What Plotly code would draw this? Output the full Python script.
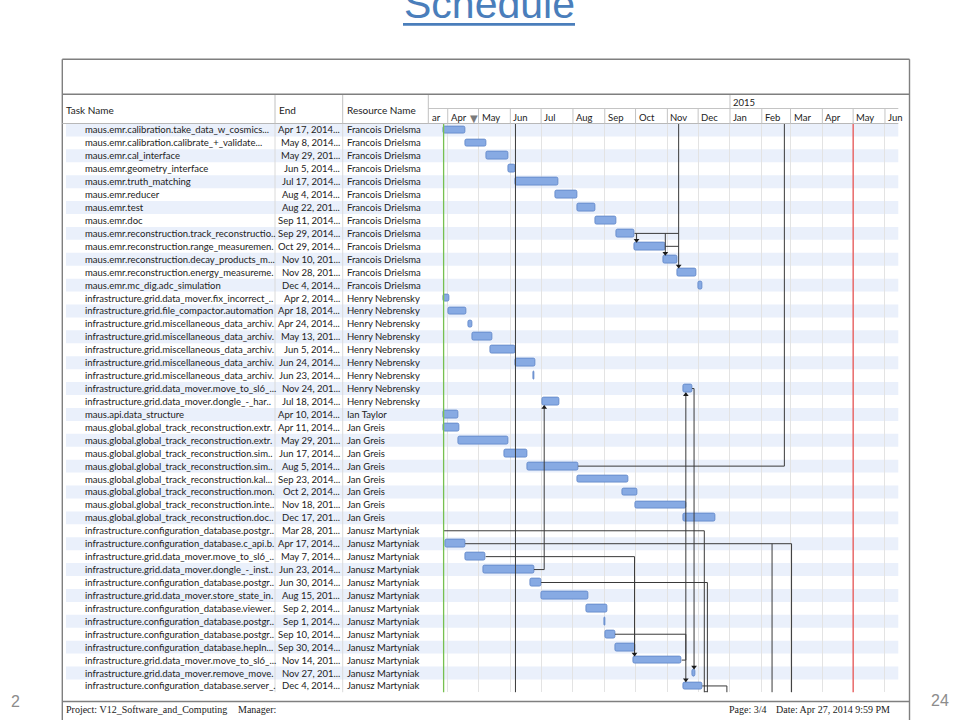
import plotly.graph_objects as go
import pandas as pd

W, H = 960, 720

# ---------------- data ----------------
task_names = [
    "maus.emr.calibration.take_data_w_cosmics...",
    "maus.emr.calibration.calibrate_+_validate...",
    "maus.emr.cal_interface",
    "maus.emr.geometry_interface",
    "maus.emr.truth_matching",
    "maus.emr.reducer",
    "maus.emr.test",
    "maus.emr.doc",
    "maus.emr.reconstruction.track_reconstructio..",
    "maus.emr.reconstruction.range_measuremen.",
    "maus.emr.reconstruction.decay_products_m...",
    "maus.emr.reconstruction.energy_measureme.",
    "maus.emr.mc_dig.adc_simulation",
    "infrastructure.grid.data_mover.fix_incorrect_..",
    "infrastructure.grid.file_compactor.automation",
    "infrastructure.grid.miscellaneous_data_archiv.",
    "infrastructure.grid.miscellaneous_data_archiv.",
    "infrastructure.grid.miscellaneous_data_archiv.",
    "infrastructure.grid.miscellaneous_data_archiv.",
    "infrastructure.grid.miscellaneous_data_archiv.",
    "infrastructure.grid.data_mover.move_to_sl6_...",
    "infrastructure.grid.data_mover.dongle_-_har..",
    "maus.api.data_structure",
    "maus.global.global_track_reconstruction.extr.",
    "maus.global.global_track_reconstruction.extr.",
    "maus.global.global_track_reconstruction.sim..",
    "maus.global.global_track_reconstruction.sim..",
    "maus.global.global_track_reconstruction.kal...",
    "maus.global.global_track_reconstruction.mon.",
    "maus.global.global_track_reconstruction.inte..",
    "maus.global.global_track_reconstruction.doc..",
    "infrastructure.configuration_database.postgr..",
    "infrastructure.configuration_database.c_api.b.",
    "infrastructure.grid.data_mover.move_to_sl6_..",
    "infrastructure.grid.data_mover.dongle_-_inst..",
    "infrastructure.configuration_database.postgr..",
    "infrastructure.grid.data_mover.store_state_in.",
    "infrastructure.configuration_database.viewer..",
    "infrastructure.configuration_database.postgr..",
    "infrastructure.configuration_database.postgr..",
    "infrastructure.configuration_database.hepIn...",
    "infrastructure.grid.data_mover.move_to_sl6_...",
    "infrastructure.grid.data_mover.remove_move.",
    "infrastructure.configuration_database.server_.",
]

end_labels = [
    "Apr 17, 2014...", "May 8, 2014...", "May 29, 201...", "Jun 5, 2014...",
    "Jul 17, 2014...", "Aug 4, 2014...", "Aug 22, 201...", "Sep 11, 2014...",
    "Sep 29, 2014...", "Oct 29, 2014...", "Nov 10, 201...", "Nov 28, 201...",
    "Dec 4, 2014...",
    "Apr 2, 2014...", "Apr 18, 2014...", "Apr 24, 2014...", "May 13, 201...",
    "Jun 5, 2014...", "Jun 24, 2014...", "Jun 23, 2014...", "Nov 24, 201...",
    "Jul 18, 2014...",
    "Apr 10, 2014...",
    "Apr 11, 2014...", "May 29, 201...", "Jun 17, 2014...", "Aug 5, 2014...",
    "Sep 23, 2014...", "Oct 2, 2014...", "Nov 18, 201...", "Dec 17, 201...",
    "Mar 28, 201...", "Apr 17, 2014...", "May 7, 2014...", "Jun 23, 2014...",
    "Jun 30, 2014...", "Aug 15, 201...", "Sep 2, 2014...", "Sep 1, 2014...",
    "Sep 10, 2014...", "Sep 30, 2014...", "Nov 14, 201...", "Nov 27, 201...",
    "Dec 4, 2014...",
]

resources = (["Francois Drielsma"] * 13 + ["Henry Nebrensky"] * 9 + ["Ian Taylor"]
             + ["Jan Greis"] * 8 + ["Janusz Martyniak"] * 13)

start_dates = [
    "2014-03-28", "2014-04-18", "2014-05-09", "2014-05-30", "2014-06-06", "2014-07-15",
    "2014-08-05", "2014-08-23", "2014-09-12", "2014-09-30", "2014-10-28", "2014-11-11",
    "2014-12-01",
    "2014-03-28", "2014-04-02", "2014-04-21", "2014-04-25", "2014-05-12", "2014-06-06",
    "2014-06-23", "2014-11-17", "2014-07-02",
    "2014-03-28",
    "2014-03-28", "2014-04-11", "2014-05-26", "2014-06-18", "2014-08-05", "2014-09-18",
    "2014-10-01", "2014-11-17",
    None, "2014-03-30", "2014-04-18", "2014-05-06", "2014-06-20", "2014-07-01",
    "2014-08-14", "2014-09-01", "2014-09-02", "2014-09-11", "2014-09-29", "2014-11-25",
    "2014-11-17",
]

end_dates = [
    "2014-04-17", "2014-05-08", "2014-05-29", "2014-06-05", "2014-07-17", "2014-08-04",
    "2014-08-22", "2014-09-11", "2014-09-29", "2014-10-29", "2014-11-10", "2014-11-28",
    "2014-12-04",
    "2014-04-02", "2014-04-18", "2014-04-24", "2014-05-13", "2014-06-05", "2014-06-24",
    "2014-06-23", "2014-11-24", "2014-07-18",
    "2014-04-10",
    "2014-04-11", "2014-05-29", "2014-06-17", "2014-08-05", "2014-09-23", "2014-10-02",
    "2014-11-18", "2014-12-17",
    "2014-03-28", "2014-04-17", "2014-05-07", "2014-06-23", "2014-06-30", "2014-08-15",
    "2014-09-02", "2014-09-01", "2014-09-10", "2014-09-30", "2014-11-14", "2014-11-27",
    "2014-12-04",
]

month_starts = ["2014-04-01", "2014-05-01", "2014-06-01", "2014-07-01", "2014-08-01",
                "2014-09-01", "2014-10-01", "2014-11-01", "2014-12-01", "2015-01-01",
                "2015-02-01", "2015-03-01", "2015-04-01", "2015-05-01", "2015-06-01"]
month_labels = ["Apr", "May", "Jun", "Jul", "Aug", "Sep", "Oct", "Nov", "Dec",
                "Jan", "Feb", "Mar", "Apr", "May", "Jun"]

status_date = "2014-03-28"     # green line
deadline_date = "2015-05-01"   # red line
today_date = "2014-04-27"      # header marker

# dependency links: (dates, row indices, arrow direction at last point)
links = [
    (["2014-09-30", "2014-11-12"], [8, 8], None),
    (["2014-10-02", "2014-10-02"], [8, 9], "down"),
    (["2014-10-30", "2014-10-30"], [8, 10], "down"),
    (["2014-10-30", "2014-11-12"], [9, 9], None),
    (["2014-11-12", "2014-11-12"], [-0.5, 11], "down"),
    (["2014-06-06", "2014-06-06"], [-0.5, 43.5], None),
    (["2014-08-06", "2015-02-23", "2015-02-23"], [26, 26, -0.5], None),
    (["2014-06-24", "2014-07-04", "2014-07-04"], [34, 34, 21], "up"),
    (["2014-11-15", "2014-11-19", "2014-11-19"], [41, 41, 20], "up"),
    (["2014-11-25", "2014-11-27", "2014-11-27"], [20, 20, 42], "down"),
    (["2014-09-11", "2014-11-19", "2014-11-19"], [39, 39, 43], "down"),
    (["2014-03-28", "2014-12-07", "2014-12-07"], [31, 31, 43.5], None),
    (["2014-04-18", "2015-03-02", "2015-03-02"], [32, 32, 43.5], None),
    (["2015-02-11", "2015-02-11"], [32, 43.5], None),
    (["2014-05-08", "2014-09-30", "2014-09-30"], [33, 33, 41], "down"),
    (["2014-07-01", "2014-12-10", "2014-12-10"], [35, 35, 43.5], None),
    (["2014-12-05", "2014-12-29", "2014-12-29"], [43, 43, 43.5], None),
    (["2014-12-07", "2014-12-10"], [43.45, 43.45], None),
]

# ---------------- helpers ----------------
def PX(x):
    return x / W


def PY(y):
    return 1 - y / H


N = len(task_names)
TXT = "#222222"
FONT = "Lato"

fig = go.Figure()

# connectors
lx, ly, dx, dy, ux, uy = [], [], [], [], [], []
for xs, ys, arrow in links:
    ys2 = list(ys)
    if arrow == "down":
        ys2[-1] = ys[-1] - 0.34
        dx.append(xs[-1]); dy.append(ys[-1] - 0.47)
    elif arrow == "up":
        ys2[-1] = ys[-1] + 0.34
        ux.append(xs[-1]); uy.append(ys[-1] + 0.47)
    lx += xs + [None]
    ly += ys2 + [None]

fig.add_trace(go.Scatter(x=lx, y=ly, mode="lines", line=dict(color="#3a3a3a", width=1),
                         hoverinfo="skip"))
fig.add_trace(go.Scatter(x=dx, y=dy, mode="markers", hoverinfo="skip",
                         marker=dict(symbol="triangle-down", size=5, color="#1a1a1a")))
fig.add_trace(go.Scatter(x=ux, y=uy, mode="markers", hoverinfo="skip",
                         marker=dict(symbol="triangle-up", size=5, color="#1a1a1a")))

# bars
rows = [i for i, s in enumerate(start_dates) if s]
s = pd.to_datetime([start_dates[i] for i in rows])
e = pd.to_datetime([end_dates[i] for i in rows]) + pd.Timedelta(days=1)
dur = [(b - a).total_seconds() * 1000 for a, b in zip(s, e)]
fig.add_trace(go.Bar(
    y=rows, x=dur, base=[d.strftime("%Y-%m-%d") for d in s], orientation="h",
    width=0.6, hoverinfo="skip",
    marker=dict(color="#87aae3", line=dict(color="#5c83c6", width=0.8), cornerradius=2),
))

shapes = []
# stripes
for i in range(0, N, 2):
    shapes.append(dict(type="rect", xref="paper", yref="y", x0=PX(66), x1=PX(898.3),
                       y0=i - 0.5, y1=i + 0.5, fillcolor="#eaf0fb", line=dict(width=0),
                       layer="below"))
# table column separators in rows area
for xc in [275, 342.7]:
    shapes.append(dict(type="line", xref="paper", yref="y", x0=PX(xc), x1=PX(xc),
                       y0=-0.5, y1=N - 0.5, line=dict(color="#dadada", width=1),
                       layer="below"))
# status / deadline lines
shapes.append(dict(type="line", xref="x", yref="y", x0=status_date, x1=status_date,
                   y0=-0.5, y1=N - 0.5, line=dict(color="#77c050", width=1.3)))
shapes.append(dict(type="line", xref="x", yref="y", x0=deadline_date, x1=deadline_date,
                   y0=-0.5, y1=N - 0.5, line=dict(color="#ea5656", width=1.3)))

# frame
FR = "#7f7f7f"
shapes += [
    dict(type="line", xref="paper", yref="paper", x0=PX(62.3), x1=PX(62.3), y0=PY(59.3), y1=PY(725),
         line=dict(color=FR, width=1.4)),
    dict(type="line", xref="paper", yref="paper", x0=PX(909.5), x1=PX(909.5), y0=PY(59.3), y1=PY(725),
         line=dict(color=FR, width=1.4)),
    dict(type="line", xref="paper", yref="paper", x0=PX(62.3), x1=PX(909.5), y0=PY(59.3), y1=PY(59.3),
         line=dict(color=FR, width=1.4)),
    dict(type="line", xref="paper", yref="paper", x0=PX(62.3), x1=PX(909.5), y0=PY(94.3), y1=PY(94.3),
         line=dict(color=FR, width=1.4)),
    dict(type="line", xref="paper", yref="paper", x0=PX(62.3), x1=PX(909.5), y0=PY(701.5), y1=PY(701.5),
         line=dict(color=FR, width=1.4)),
    # header bottom
    dict(type="line", xref="paper", yref="paper", x0=PX(62.3), x1=PX(898.3), y0=PY(123.5), y1=PY(123.5),
         line=dict(color="#b8b8b8", width=1)),
    # gantt header tier line
    dict(type="line", xref="paper", yref="paper", x0=PX(428.3), x1=PX(898.3), y0=PY(108.5), y1=PY(108.5),
         line=dict(color="#c4c4c4", width=1)),
]
for xc in [275, 342.7, 428.3]:
    shapes.append(dict(type="line", xref="paper", yref="paper", x0=PX(xc), x1=PX(xc),
                       y0=PY(95), y1=PY(123.5), line=dict(color="#c0c0c0", width=1)))
for m in month_starts:
    shapes.append(dict(type="line", xref="x", yref="paper", x0=m, x1=m,
                       y0=PY(108.5), y1=PY(123.5), line=dict(color="#c4c4c4", width=1)))
shapes.append(dict(type="line", xref="x", yref="paper", x0="2015-01-01", x1="2015-01-01",
                   y0=PY(95), y1=PY(108.5), line=dict(color="#c4c4c4", width=1)))
# title underline
shapes.append(dict(type="line", xref="paper", yref="paper", x0=PX(403), x1=PX(575),
                   y0=PY(24.3), y1=PY(24.3), line=dict(color="#4a7ebb", width=2.7)))

ann = []
# title
ann.append(dict(x=PX(489), y=PY(4), xref="paper", yref="paper", text="Schedule",
                showarrow=False, xanchor="center", yanchor="middle",
                font=dict(family="Liberation Sans", size=41, color="#4a7ebb")))
# slide numbers
ann.append(dict(x=PX(15), y=PY(701), xref="paper", yref="paper", text="2", showarrow=False,
                xanchor="center", yanchor="middle",
                font=dict(family="Liberation Sans", size=16, color="#8c8c8c")))
ann.append(dict(x=PX(940), y=PY(700), xref="paper", yref="paper", text="24", showarrow=False,
                xanchor="center", yanchor="middle",
                font=dict(family="Liberation Sans", size=16, color="#8c8c8c")))
# table headers
for txt, xc in [("Task Name", 64), ("End", 277), ("Resource Name", 345)]:
    ann.append(dict(x=PX(xc), y=PY(110), xref="paper", yref="paper", text=txt, showarrow=False,
                    xanchor="left", yanchor="middle", font=dict(family=FONT, size=10, color=TXT)))
# gantt header
ann.append(dict(x=PX(430), y=PY(117.5), xref="paper", yref="paper", text="ar", showarrow=False,
                xanchor="left", yanchor="middle", font=dict(family=FONT, size=9.5, color=TXT)))
for m, lab in zip(month_starts, month_labels):
    ann.append(dict(x=m, y=PY(117.5), xref="x", yref="paper", text=lab, showarrow=False,
                    xanchor="left", yanchor="middle", xshift=1,
                    font=dict(family=FONT, size=9.5, color=TXT)))
ann.append(dict(x="2015-01-01", y=PY(102.5), xref="x", yref="paper", text="2015", showarrow=False,
                xanchor="left", yanchor="middle", xshift=1,
                font=dict(family=FONT, size=9.5, color=TXT)))
ann.append(dict(x=today_date, y=PY(119), xref="x", yref="paper", text="▼", showarrow=False,
                xanchor="center", yanchor="middle",
                font=dict(family="DejaVu Sans", size=10, color="#7a7a7a")))
# table rows
for i in range(N):
    ann.append(dict(x=PX(82.5), y=i, xref="paper", yref="y", text=task_names[i], showarrow=False,
                    xanchor="left", yanchor="middle", font=dict(family=FONT, size=9.5, color=TXT)))
    ann.append(dict(x=PX(341.5), y=i, xref="paper", yref="y", text=end_labels[i], showarrow=False,
                    xanchor="right", yanchor="middle", font=dict(family=FONT, size=9.5, color=TXT)))
    ann.append(dict(x=PX(345), y=i, xref="paper", yref="y", text=resources[i], showarrow=False,
                    xanchor="left", yanchor="middle", font=dict(family=FONT, size=9.5, color=TXT)))
# footer
SER = dict(family="Liberation Serif", size=10, color="#1a1a1a")
for txt, xc in [("Project: V12_Software_and_Computing", 64), ("Manager:", 236),
                ("Page: 3/4", 726.7), ("Date: Apr 27, 2014 9:59 PM", 774.3)]:
    ann.append(dict(x=PX(xc), y=PY(709), xref="paper", yref="paper", text=txt, showarrow=False,
                    xanchor="left", yanchor="middle", font=SER))

fig.update_layout(
    width=W, height=H, margin=dict(l=0, r=0, t=0, b=0),
    paper_bgcolor="white", plot_bgcolor="rgba(0,0,0,0)",
    showlegend=False, shapes=shapes, annotations=ann, bargap=0,
    xaxis=dict(type="date", range=["2014-03-13 02:00", "2015-06-14"],
               domain=[PX(428.3), PX(898.3)], tickvals=month_starts, showticklabels=False,
               ticks="", showgrid=True, gridcolor="#e3e3e3", gridwidth=1, zeroline=False,
               showline=False, fixedrange=True),
    yaxis=dict(range=[N - 0.5, -0.5], domain=[PY(692.4), PY(123.5)], showgrid=False,
               showticklabels=False, ticks="", zeroline=False, showline=False, fixedrange=True),
)

fig.write_html("out.html", config={"displayModeBar": False},
               post_script="document.body.style.margin='0';document.body.style.overflow='hidden';")
